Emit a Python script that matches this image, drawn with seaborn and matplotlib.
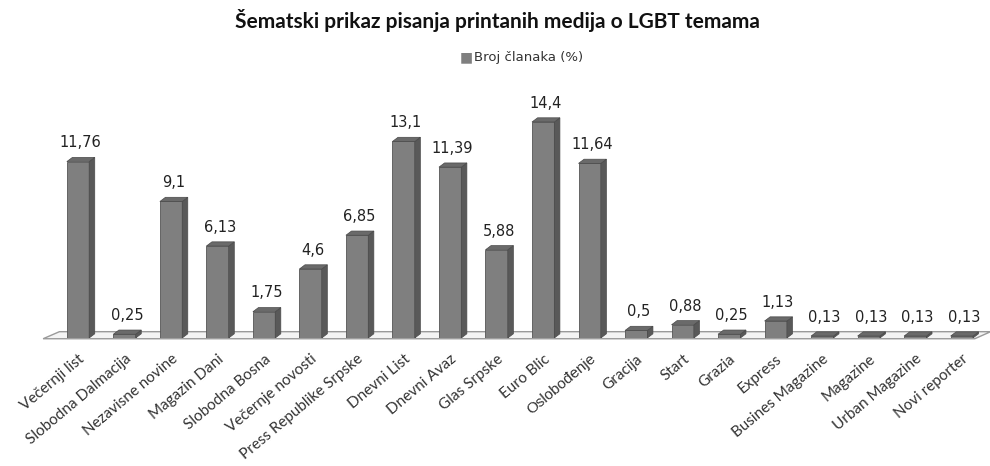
import pandas as pd
import numpy as np
import seaborn as sns
import matplotlib.pyplot as plt
from matplotlib.patches import Polygon

mediji = ["Večernji list", "Slobodna Dalmacija", "Nezavisne novine", "Magazin Dani",
          "Slobodna Bosna", "Večernje novosti", "Press Republike Srpske", "Dnevni List",
          "Dnevni Avaz", "Glas Srpske", "Euro Blic", "Oslobođenje", "Gracija", "Start",
          "Grazia", "Express", "Busines Magazine", "Magazine", "Urban Magazine", "Novi reporter"]
clanci = [11.76, 0.25, 9.1, 6.13, 1.75, 4.6, 6.85, 13.1, 11.39, 5.88, 14.4, 11.64,
          0.5, 0.88, 0.25, 1.13, 0.13, 0.13, 0.13, 0.13]
oznake = ["11,76", "0,25", "9,1", "6,13", "1,75", "4,6", "6,85", "13,1", "11,39", "5,88",
          "14,4", "11,64", "0,5", "0,88", "0,25", "1,13", "0,13", "0,13", "0,13", "0,13"]

df = pd.DataFrame({"Medij": mediji, "Broj": clanci})

sns.set_style("white")
plt.rcParams["font.family"] = ["Lato", "DejaVu Sans"]

fig = plt.figure(figsize=(9.9, 4.66), dpi=100)
ax = fig.add_axes([0.0553, 0.2747, 0.9397, 0.515])

sns.barplot(data=df, x="Medij", y="Broj", color="#7f7f7f", width=0.48,
            saturation=1, edgecolor="#555555", linewidth=0.6, ax=ax, zorder=3)
ax.set_xlim(-0.5, 19.5)
ax.set_ylim(0, 16)

# fake 3D depth
dx, dy = 0.12, 0.28
for p in ax.patches:
    x0, w, h = p.get_x(), p.get_width(), p.get_height()
    x1 = x0 + w
    side = Polygon([(x1, 0), (x1 + dx, dy), (x1 + dx, h + dy), (x1, h)],
                   closed=True, fc="#595959", ec="#4a4a4a", lw=0.5, zorder=3)
    top = Polygon([(x0, h), (x0 + dx, h + dy), (x1 + dx, h + dy), (x1, h)],
                  closed=True, fc="#6a6a6a", ec="#4a4a4a", lw=0.5, zorder=3)
    ax.add_patch(side)
    ax.add_patch(top)

# floor
floor = Polygon([(-0.75, -0.05), (-0.4, 0.42), (19.62, 0.42), (19.28, -0.05)],
                closed=True, fc="#f4f4f4", ec="#9a9a9a", lw=1.0, zorder=1, clip_on=False)
ax.add_patch(floor)

for i, (v, t) in enumerate(zip(clanci, oznake)):
    ax.text(i + 0.05, v + 0.75, t, ha="center", va="bottom", fontsize=10.5,
            family="DejaVu Sans", color="#222222")

ax.set_xticks(range(len(mediji)))
ax.set_xticklabels(mediji, rotation=40, ha="right", rotation_mode="anchor",
                   fontsize=11, color="#333333")
ax.tick_params(axis="x", length=0, pad=10)
for lbl in ax.get_xticklabels():
    if lbl.get_text() == "Oslobođenje":
        lbl.set_fontsize(11)
        lbl.set_family(["Liberation Sans", "DejaVu Sans"])
ax.set_yticks([])
ax.set_xlabel("")
ax.set_ylabel("")
sns.despine(ax=ax, left=True, bottom=True)

fig.text(0.502, 0.955, "Šematski prikaz pisanja printanih medija o LGBT temama",
         ha="center", va="center", fontsize=15, fontweight="bold", color="#111111")
fig.text(0.4715, 0.877, "■", ha="center", va="center", fontsize=10,
         family="DejaVu Sans", color="#7f7f7f")
fig.text(0.479, 0.877, "Broj članaka (%)", ha="left", va="center", fontsize=9.5,
         family="DejaVu Sans", color="#333333")

fig.savefig("out.png", dpi=100)
